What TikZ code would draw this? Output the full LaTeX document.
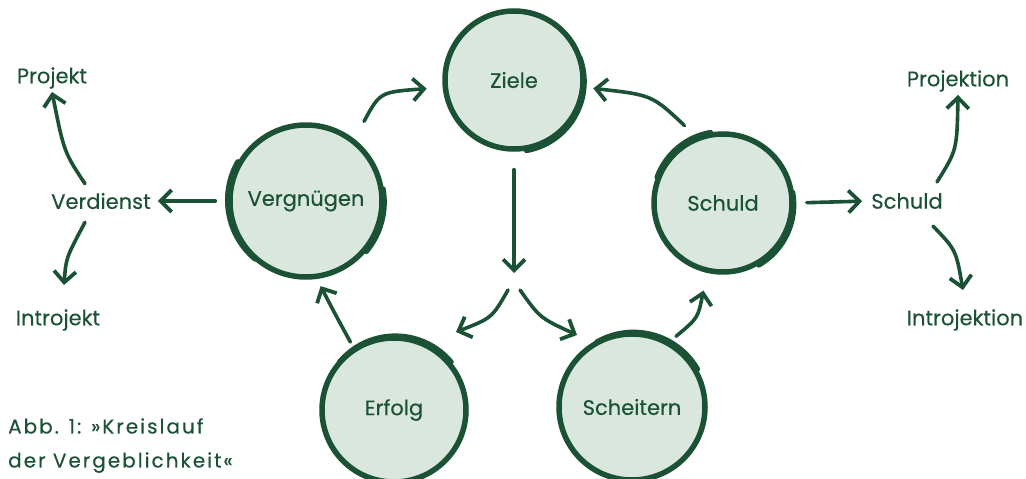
\documentclass[tikz,border=0pt]{standalone}
\usepackage{fontspec}
\setmainfont{Poppins}
\newfontfamily\lblfont{Poppins}[FakeBold=0.3]
\newfontfamily\capfont{Poppins}[LetterSpace=10,FakeBold=0.3]
\usetikzlibrary{arrows.meta}
\definecolor{dg}{HTML}{1B5236}
\definecolor{lg}{HTML}{D9E7DF}
\begin{document}
\begin{tikzpicture}[x=1pt,y=-1pt,
  bubble/.style={circle, fill=lg, draw=dg, line width=5.5pt, text=dg, font=\lblfont\fontsize{21}{24}\selectfont, inner sep=0pt},
  lbl/.style={text=dg, font=\lblfont\fontsize{21}{24}\selectfont, inner sep=3pt},
  arr/.style={draw=dg, line width=3.6pt, line cap=round, -{Straight Barb[length=11pt,width=22pt,line width=3.8pt]}},
  sketch/.style={draw=dg, line width=5pt, line cap=round},
]
\useasboundingbox (0,0) rectangle (1026,479);
% circles
\node[bubble, minimum size=138pt] (ziele) at (514,80) {Ziele};
\node[bubble, minimum size=152pt] (verg) at (306,201) {Vergnügen};
\node[bubble, minimum size=138pt] (schuldc) at (723,203) {Schuld};
\node[bubble, minimum size=144pt] (erfolg) at (394,410) {Erfolg};
\node[bubble, minimum size=146pt] (scheit) at (632,407) {Scheitern};
% sketchy extra strokes
\draw[sketch] (ziele.-80) arc[start angle=-80, end angle=20, radius=70pt];
\draw[sketch] (verg.150) arc[start angle=150, end angle=230, radius=77pt];
\draw[sketch] (verg.-40) arc[start angle=-40, end angle=10, radius=77pt];
\draw[sketch] (schuldc.-60) arc[start angle=-60, end angle=10, radius=70pt];
\draw[sketch] (schuldc.100) arc[start angle=100, end angle=160, radius=70pt];
\draw[sketch] (erfolg.40) arc[start angle=40, end angle=140, radius=73pt];
\draw[sketch] (scheit.30) arc[start angle=30, end angle=120, radius=74pt];
% side labels
\node[lbl] (verd) at (101,201) {Verdienst};
\node[lbl] (projekt) at (52,78) {Projekt};
\node[lbl] (introjekt) at (58,320) {Introjekt};
\node[lbl] (schuldt) at (907,201) {Schuld};
\node[lbl] (projektion) at (958,81) {Projektion};
\node[lbl] (introjektion) at (965,320) {Introjektion};
% split point
\coordinate (split) at (514,288);
% arrows of the cycle
\draw[arr, shorten <=20pt, shorten >=16pt] (verg.52) .. controls (380,92) .. (ziele.186);
\draw[arr, shorten <=16pt, shorten >=8pt] (schuldc.112) .. controls (652,95) .. (ziele.-6);
\draw[arr, shorten <=18pt, shorten >=15pt] (ziele.south) -- (split);
\draw[arr] (split) ++(-6,2) coordinate (sl) (sl) .. controls (492,318) .. (456,332);
\draw[arr] (split) ++(6,2) coordinate (sr) (sr) .. controls (540,318) .. (577,335);
\draw[arr, shorten <=6pt, shorten >=8pt] (erfolg.123) .. controls (334,312) .. (verg.-82);
\draw[arr, shorten <=8pt, shorten >=18pt] (scheit.60) .. controls (698,318) .. (schuldc.-103);
% side arrows
\draw[arr, shorten <=12pt, shorten >=4pt] (verg.west) -- (verd.east);
\draw[arr] (verd.north) ++(-16,-6) coordinate (vn) (vn) .. controls (64,152) .. (projekt.south);
\draw[arr] (verd.south) ++(-16,10) coordinate (vs) (vs) .. controls (66,258) .. (64,285);
\draw[arr, shorten <=12pt, shorten >=6pt] (schuldc.east) -- (schuldt.west);
\draw[arr] (schuldt.north) ++(30,-8) coordinate (sn) (sn) .. controls (957,150) .. (projektion.south);
\draw[arr] (schuldt.south) ++(26,14) coordinate (ss) (ss) .. controls (956,250) .. (963,290);
% caption
\node[anchor=north west, text=dg, align=left, inner sep=0pt,
  font=\capfont\fontsize{20}{34}\selectfont] (cap) at (8,418)
  {Abb. 1: »Kreislauf\\der Vergeblichkeit«};
\end{tikzpicture}
\end{document}
